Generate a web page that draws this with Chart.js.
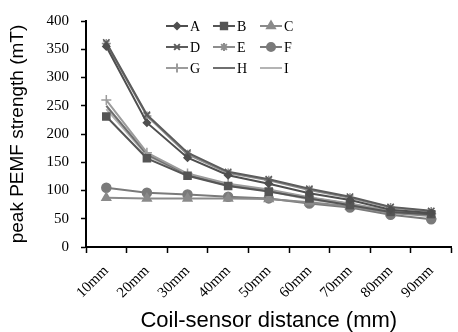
<!DOCTYPE html>
<html>
<head>
<meta charset="utf-8">
<script src="https://cdn.jsdelivr.net/npm/chart.js@4/dist/chart.umd.min.js"></script>
<style>
  html, body { margin: 0; padding: 0; background: #fff; }
  #wrap { width: 458px; height: 332px; }
</style>
</head>
<body>
<div id="wrap"><canvas id="c"></canvas></div>
<script>
'use strict';

const distances = ['10mm', '20mm', '30mm', '40mm', '50mm', '60mm', '70mm', '80mm', '90mm'];
const seriesNames = ['A', 'B', 'C', 'D', 'E', 'F', 'G', 'H', 'I'];

const valuesA = [355, 220, 158, 127, 112, 95, 83, 66, 60];
const valuesB = [231, 157, 126, 108, 98, 86, 74, 62, 58];
const valuesC = [87, 86, 86, 86, 85, 79, 72, 60, 55];
const valuesD = [362, 234, 167, 133, 120, 103, 89, 71, 64];
const valuesE = [360, 232, 164, 131, 118, 101, 87, 70, 63];
const valuesF = [105, 96, 93, 89, 86, 77, 70, 57, 49];
const valuesG = [260, 167, 130, 112, 102, 88, 77, 64, 59];
const valuesH = [250, 164, 128, 110, 100, 87, 76, 63, 58];
const valuesI = [244, 162, 127, 109, 99, 84, 75, 62, 57];

const yTicks = [0, 50, 100, 150, 200, 250, 300, 350, 400];

const STYLES = [
  { color: '#4f4f4f', point: 'rectRot', radius: 3.5 },
  { color: '#555555', point: 'rect', radius: 5 },
  { color: '#8a8a8a', point: 'triangle', radius: 5 },
  { color: '#5c5c5c', point: 'crossRot', radius: 4.5 },
  { color: '#8d8d8d', point: 'star', radius: 4.5 },
  { color: '#7a7a7a', point: 'circle', radius: 4.5 },
  { color: '#9c9c9c', point: 'cross', radius: 5 },
  { color: '#6f6f6f', point: false, radius: 0 },
  { color: '#b4b4b4', point: false, radius: 0 },
];

const allValues = [valuesA, valuesB, valuesC, valuesD, valuesE, valuesF, valuesG, valuesH, valuesI];

const datasets = seriesNames.map((name, i) => ({
  label: name,
  data: allValues[i],
  borderColor: STYLES[i].color,
  backgroundColor: STYLES[i].color,
  borderWidth: 2,
  pointStyle: STYLES[i].point,
  pointRadius: STYLES[i].radius,
  pointBorderWidth: 1.5,
  tension: 0,
}));

// legend inside the plot, 3 columns like the original figure
const gridLegend = {
  id: 'gridLegend',
  afterDraw(chart) {
    const ctx = chart.ctx;
    const cols = [166, 213, 260];
    const rows = [26, 47, 68];
    ctx.save();
    ctx.font = '14px "Liberation Serif", serif';
    ctx.textBaseline = 'middle';
    ctx.textAlign = 'left';
    chart.data.datasets.forEach((ds, i) => {
      const x = cols[i % 3];
      const y = rows[Math.floor(i / 3)];
      ctx.strokeStyle = ds.borderColor;
      ctx.fillStyle = ds.backgroundColor;
      ctx.lineWidth = 2;
      ctx.beginPath();
      ctx.moveTo(x, y);
      ctx.lineTo(x + 22, y);
      ctx.stroke();
      if (ds.pointStyle) {
        Chart.helpers.drawPoint(ctx, {
          pointStyle: ds.pointStyle,
          radius: ds.pointRadius * 0.9,
          borderWidth: 1.5,
        }, x + 11, y);
      }
      ctx.fillStyle = '#000';
      ctx.fillText(ds.label, x + 24, y + 1);
    });
    ctx.restore();
  },
};

document.addEventListener('DOMContentLoaded', () => {
  new Chart(document.getElementById('c'), {
    type: 'line',
    data: { labels: distances, datasets },
    plugins: [gridLegend],
    options: {
      responsive: true,
      maintainAspectRatio: false,
      animation: false,
      layout: { padding: { top: 21, right: 0, left: 0, bottom: 0 } },
      plugins: {
        legend: { display: false },
        tooltip: { enabled: false },
      },
      scales: {
        x: {
          offset: true,
          afterFit: (scale) => { scale.height = 85; },
          grid: { display: true, drawOnChartArea: false, offset: true, color: '#000', tickLength: 6, tickWidth: 1.5 },
          border: { color: '#000', width: 2 },
          ticks: {
            color: '#000',
            font: { family: '"Liberation Serif", serif', size: 15 },
            maxRotation: 45,
            minRotation: 45,
            padding: 9,
          },
          title: {
            display: true,
            text: 'Coil-sensor distance (mm)',
            color: '#000',
            font: { family: '"Liberation Sans", Arial, sans-serif', size: 22, lineHeight: 1 },
            padding: { top: 0, bottom: 0 },
          },
        },
        y: {
          min: 0,
          max: 400,
          afterBuildTicks: (scale) => { scale.ticks = yTicks.map((v) => ({ value: v })); },
          afterFit: (scale) => { scale.width = 86; },
          grid: { display: true, drawOnChartArea: false, color: '#000', tickLength: 5, tickWidth: 1.5 },
          border: { color: '#000', width: 2 },
          ticks: {
            color: '#000',
            font: { family: '"Liberation Serif", serif', size: 15 },
            padding: 12,
          },
          title: {
            display: true,
            text: 'peak PEMF strength (mT)',
            color: '#000',
            font: { family: '"Liberation Sans", Arial, sans-serif', size: 19, lineHeight: 1 },
            padding: { top: 8, bottom: 0 },
          },
        },
      },
    },
  });
});
</script>
</body>
</html>
